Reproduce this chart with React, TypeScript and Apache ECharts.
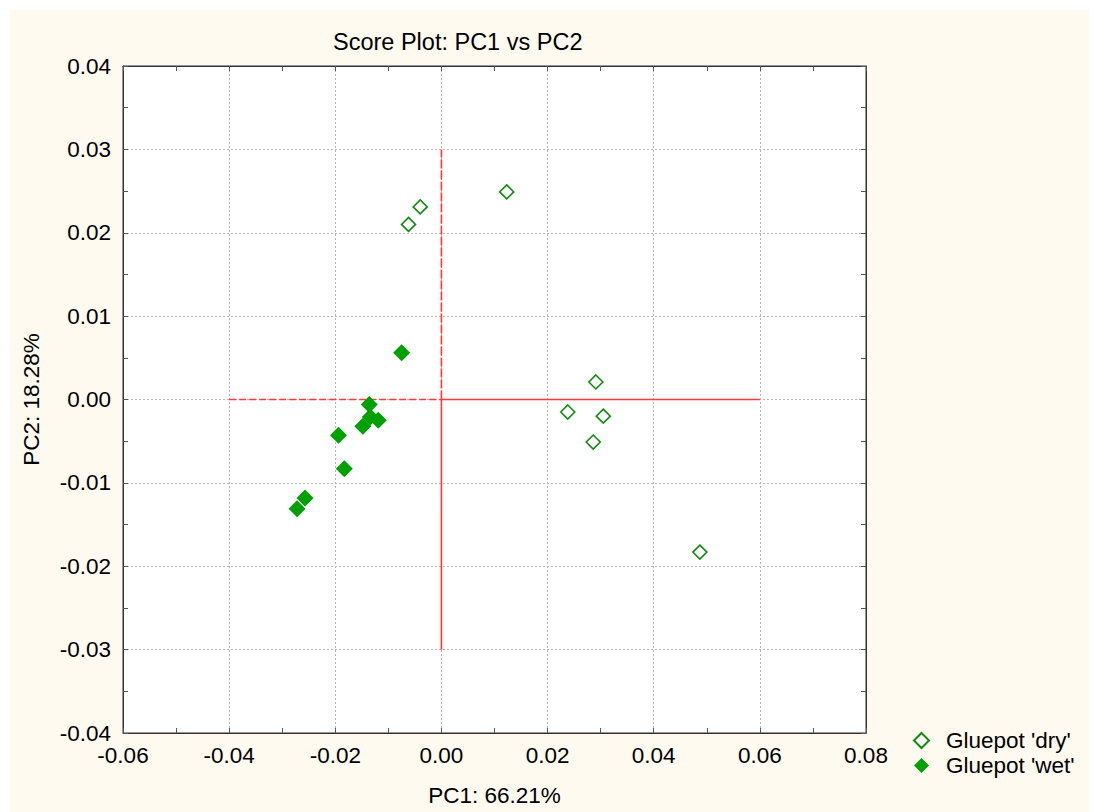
import React, { useEffect, useRef } from "react";
import * as echarts from "echarts";

const dryPoints: [number, number][] = [
  [-0.0062, 0.0210],
  [-0.0040, 0.0231],
  [0.0123, 0.0249],
  [0.0291, 0.0021],
  [0.0238, -0.0015],
  [0.0305, -0.0020],
  [0.0286, -0.0051],
  [0.0487, -0.0183],
];

const wetPoints: [number, number][] = [
  [-0.0075, 0.0056],
  [-0.0136, -0.0006],
  [-0.0134, -0.0021],
  [-0.0119, -0.0025],
  [-0.0148, -0.0032],
  [-0.0194, -0.0043],
  [-0.0183, -0.0083],
  [-0.0257, -0.0118],
  [-0.0272, -0.0131],
];

const refDashedH: [number, number][] = [[-0.04, 0], [0, 0]];
const refSolidH: [number, number][] = [[0, 0], [0.06, 0]];
const refDashedV: [number, number][] = [[0, 0], [0, 0.03]];
const refSolidV: [number, number][] = [[0, -0.03], [0, 0]];

const seriesNames = ["Gluepot 'dry'", "Gluepot 'wet'"];
const titleText = "Score Plot: PC1 vs PC2";
const xName = "PC1: 66.21%";
const yName = "PC2: 18.28%";

const FONT = "'Liberation Sans', Arial, sans-serif";
const FS = 22.5;
const RED = "#ff3838";

export default function App() {
  const ref = useRef<HTMLDivElement>(null);
  useEffect(() => {
    if (!ref.current) return;
    const chart = echarts.init(ref.current, undefined, { renderer: "svg" });
    const gridStyle = { show: true, lineStyle: { color: "#b4b4b4", type: [2, 2], width: 1 } };
    const tickBase = {
      axisLine: { show: true, onZero: false, lineStyle: { color: "#333", width: 1 } },
      axisTick: { show: true, inside: true, length: 5, lineStyle: { color: "#555" } },
      minorTick: { show: true, splitNumber: 2, length: 5, lineStyle: { color: "#555" } },
    };
    const redLine = (data: [number, number][], dash: number[] | null) => ({
      type: "line",
      data,
      color: RED,
      symbol: "none",
      silent: true,
      z: 2,
      itemStyle: { color: RED },
      lineStyle: { color: RED, width: 1.6, opacity: 1, type: dash ? dash : "solid" },
      emphasis: { disabled: true },
    });
    chart.setOption({
      animation: false,
      backgroundColor: "transparent",
      textStyle: { fontFamily: FONT },
      title: {
        text: titleText,
        left: 328,
        top: 25,
        textStyle: { fontFamily: FONT, fontSize: 23.5, fontWeight: "normal", color: "#000" },
      },
      grid: {
        left: 123,
        top: 66,
        right: 227,
        bottom: 78,
        show: true,
        backgroundColor: "#ffffff",
        borderColor: "#333",
        borderWidth: 1,
      },
      legend: {
        orient: "vertical",
        left: 908,
        top: 724,
        itemWidth: 15,
        itemHeight: 15,
        itemGap: 2,
        data: seriesNames,
        textStyle: { fontFamily: FONT, fontSize: FS, color: "#000", padding: [0, 0, 0, 12] },
      },
      xAxis: [
        {
          type: "value",
          min: -0.06,
          max: 0.08,
          interval: 0.02,
          name: xName,
          nameLocation: "middle",
          nameGap: 51,
          nameTextStyle: { fontFamily: FONT, fontSize: FS, color: "#000" },
          ...tickBase,
          axisLabel: {
            fontFamily: FONT,
            fontSize: FS,
            color: "#000",
            margin: 11,
            formatter: (v: number) => v.toFixed(2),
          },
          splitLine: gridStyle,
        },
        {
          type: "value",
          position: "top",
          min: -0.06,
          max: 0.08,
          interval: 0.02,
          ...tickBase,
          axisLabel: { show: false },
          splitLine: { show: false },
        },
      ],
      yAxis: [
        {
          type: "value",
          min: -0.04,
          max: 0.04,
          interval: 0.01,
          name: yName,
          nameLocation: "middle",
          nameGap: 80,
          nameTextStyle: { fontFamily: FONT, fontSize: FS, color: "#000" },
          ...tickBase,
          axisLabel: {
            fontFamily: FONT,
            fontSize: FS,
            color: "#000",
            margin: 12,
            formatter: (v: number) => v.toFixed(2),
          },
          splitLine: gridStyle,
        },
        {
          type: "value",
          position: "right",
          min: -0.04,
          max: 0.04,
          interval: 0.01,
          ...tickBase,
          axisLabel: { show: false },
          splitLine: { show: false },
        },
      ],
      series: [
        redLine(refDashedH, [7, 3]),
        redLine(refSolidH, null),
        redLine(refDashedV, [9, 2]),
        redLine(refSolidV, null),
        {
          name: seriesNames[0],
          type: "scatter",
          data: dryPoints,
          symbol: "diamond",
          symbolSize: 14,
          z: 3,
          itemStyle: { color: "#ffffff", borderColor: "#128a12", borderWidth: 1.6, opacity: 1 },
        },
        {
          name: seriesNames[1],
          type: "scatter",
          data: wetPoints,
          symbol: "diamond",
          symbolSize: 17,
          z: 3,
          itemStyle: { color: "#00a000", opacity: 1 },
        },
      ],
    });
    return () => chart.dispose();
  }, []);
  return (
    <div style={{ position: "fixed", left: 0, top: 0, width: 1093, height: 812, background: "#ffffff" }}>
      <div style={{ position: "absolute", left: 10, top: 10, width: 1079, height: 802, background: "#fefaf0" }} />
      <div ref={ref} style={{ position: "absolute", left: 0, top: 0, width: 1093, height: 812 }} />
    </div>
  );
}
